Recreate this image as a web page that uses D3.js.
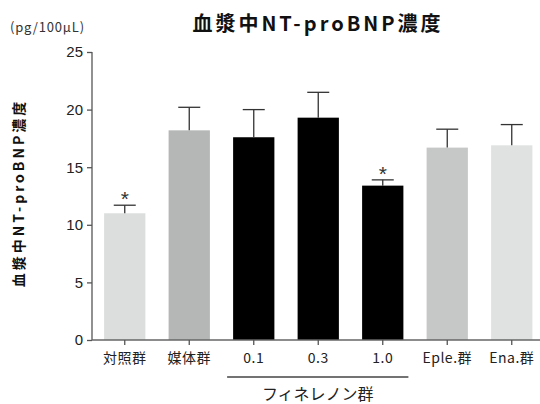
<!DOCTYPE html>
<html>
<head>
<meta charset="utf-8">
<script src="https://cdn.jsdelivr.net/npm/d3@7"></script>
<style>
  body { margin: 0; background: #fff; }
  text { font-family: "Noto Sans CJK JP", "Noto Sans", sans-serif; }
</style>
</head>
<body>
<svg id="chart" width="540" height="404"></svg>
<script>
// Plasma NT-proBNP by group (mean, upper error bar)
const categories = ["対照群", "媒体群", "0.1", "0.3", "1.0", "Eple.群", "Ena.群"];
const means      = [11.0, 18.2, 17.6, 19.3, 13.4, 16.7, 16.9];
const errTops    = [11.7, 20.2, 20.0, 21.5, 13.9, 18.3, 18.7];
const significant = [true, false, false, false, true, false, false];
const fills      = ["#dcdddd", "#b5b6b6", "#000000", "#000000", "#000000", "#c6c7c7", "#e0e1e1"];
const yTicks     = [0, 5, 10, 15, 20, 25];

const svg = d3.select("#chart");

const x = d3.scaleBand().domain(categories).range([92.5, 544]).paddingInner(0.36).paddingOuter(0.18);
const y = d3.scaleLinear().domain([0, 25]).range([340, 52]);

// bars
svg.append("g").selectAll("rect").data(categories).join("rect")
  .attr("x", d => x(d))
  .attr("width", x.bandwidth())
  .attr("y", (d, i) => y(means[i]))
  .attr("height", (d, i) => y(0) - y(means[i]))
  .attr("fill", (d, i) => fills[i]);

// error bars (upper only)
const eb = svg.append("g").attr("stroke", "#333").attr("stroke-width", 1.3);
categories.forEach((d, i) => {
  const cx = x(d) + x.bandwidth() / 2;
  eb.append("line").attr("x1", cx).attr("x2", cx).attr("y1", y(means[i])).attr("y2", y(errTops[i]));
  eb.append("line").attr("x1", cx - 11).attr("x2", cx + 11).attr("y1", y(errTops[i])).attr("y2", y(errTops[i]));
});

// significance marks
svg.append("g").selectAll("text").data(categories.filter((d, i) => significant[i])).join("text")
  .attr("x", d => x(d) + x.bandwidth() / 2)
  .attr("y", d => y(errTops[categories.indexOf(d)]) + 1)
  .attr("text-anchor", "middle")
  .attr("font-size", 21)
  .attr("fill", "#333")
  .style("font-family", "'Liberation Sans', Arial, sans-serif")
  .text("*");

// y axis
const yAxis = svg.append("g").attr("transform", "translate(92,0)")
  .call(d3.axisLeft(y).tickValues(yTicks).tickSize(5).tickPadding(4));
yAxis.select(".domain").attr("stroke", "#555").attr("stroke-width", 1.3).attr("d", "M0,52V340");
yAxis.selectAll(".tick line").attr("stroke", "#555").attr("stroke-width", 1.3);
yAxis.selectAll(".tick text").attr("font-size", 15).attr("fill", "#222")
  .style("font-family", "'Liberation Sans', Arial, sans-serif");

// x axis
const xAxis = svg.append("g").attr("transform", "translate(0,340)")
  .call(d3.axisBottom(x).tickSize(5).tickPadding(8));
xAxis.select(".domain").attr("stroke", "#666").attr("stroke-width", 1.3).attr("d", "M92,0H540");
xAxis.selectAll(".tick line").attr("stroke", "#555").attr("stroke-width", 1.3);
xAxis.selectAll(".tick text").attr("font-size", 14).attr("fill", "#222").attr("letter-spacing", 0.5);

// bracket under the finerenone doses
const bx1 = x("0.1") - 6, bx2 = x("1.0") + x.bandwidth() + 5;
svg.append("line").attr("x1", bx1).attr("x2", bx2).attr("y1", 377).attr("y2", 377)
  .attr("stroke", "#444").attr("stroke-width", 1.3);
svg.append("text").attr("x", (bx1 + bx2) / 2).attr("y", 400).attr("text-anchor", "middle")
  .attr("font-size", 16).attr("fill", "#222").text("フィネレノン群");

// title
svg.append("text").attr("x", 318).attr("y", 31).attr("text-anchor", "middle")
  .attr("font-size", 20).attr("font-weight", "bold").attr("fill", "#111").attr("letter-spacing", 3)
  .text("血漿中NT-proBNP濃度");

// unit
svg.append("text").attr("x", 10).attr("y", 32).attr("font-size", 13).attr("fill", "#333")
  .attr("letter-spacing", 0.8)
  .text("(pg/100μL)");

// y axis title
svg.append("text").attr("transform", "translate(24,193) rotate(-90)")
  .attr("text-anchor", "middle").attr("font-size", 14).attr("font-weight", "bold").attr("fill", "#111")
  .attr("letter-spacing", 3)
  .text("血漿中NT-proBNP濃度");
</script>
</body>
</html>
